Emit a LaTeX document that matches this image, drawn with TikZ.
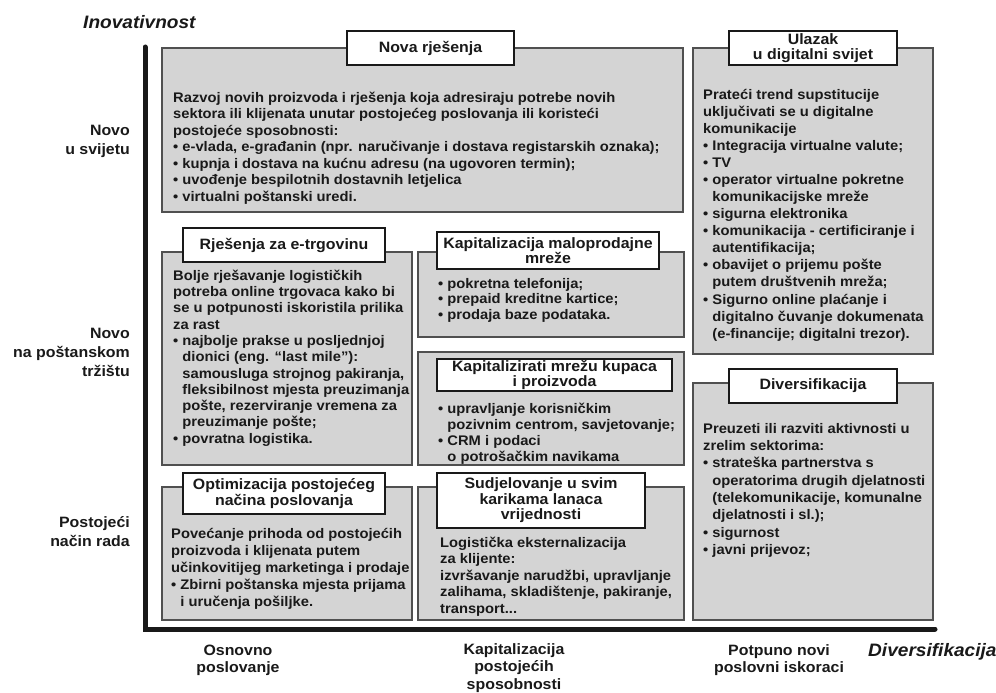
\documentclass[tikz,border=0pt]{standalone}
\usepackage{fontspec}
\setmainfont{Liberation Sans}[FakeStretch=1.06]
\definecolor{boxgrey}{RGB}{212,212,212}
\definecolor{boxline}{RGB}{80,80,80}
\definecolor{ink}{RGB}{25,25,25}
\newcommand\fl{\rule{0pt}{13pt}}
\newcommand\bu{\textbullet\ }
\newcommand\ind{\phantom{\textbullet\ }}
\newcommand\bodyfont[1]{\fontsize{13.9}{#1}\selectfont\bfseries}
\tikzset{
  greybox/.style={draw=boxline, fill=boxgrey, line width=1.3pt},
  titlebox/.style={draw=ink, fill=white, line width=1.4pt, inner sep=0pt, align=center, text=ink, font=\fontsize{15}{15.5}\selectfont\bfseries},
  bodytext/.style={anchor=north west, inner sep=0pt, align=left, text=ink},
  sidelabel/.style={anchor=east, inner sep=0pt, align=right, text=ink, font=\fontsize{15}{19}\selectfont\bfseries},
  bottomlabel/.style={anchor=north, inner sep=0pt, align=center, text=ink, font=\fontsize{15}{17.5}\selectfont\bfseries},
  axistitle/.style={inner sep=0pt, text=ink, font=\fontsize{18}{20}\selectfont\bfseries\itshape},
  axisline/.style={line width=5pt, draw=ink, line cap=round},
}
\begin{document}
\begin{tikzpicture}[x=1pt,y=-1pt]
\useasboundingbox (0,0) rectangle (996,693);
% axes
\coordinate (axtop) at (145,47);
\coordinate (axorigin) at (145,629);
\coordinate (axright) at (935,629);
\draw[axisline] (axtop) -- (axorigin) -- (axright);
\node[axistitle, anchor=west] (ytitle) at (83,22) {Inovativnost};
\node[axistitle, anchor=west] (xtitle) at (868,652) {Diversifikacija};

% side labels
\node[sidelabel] (l1) at (130,141.5) {Novo\\u svijetu};
\node[sidelabel] (l2) at (130,352) {Novo\\na poštanskom\\tržištu};
\node[sidelabel] (l3) at (130,532) {Postojeći\\način rada};

% bottom labels
\node[bottomlabel] (b1) at (238,642) {\fl Osnovno\\poslovanje};
\node[bottomlabel] (b2) at (514,641) {\fl Kapitalizacija\\postojećih\\sposobnosti};
\node[bottomlabel] (b3) at (779,642) {\fl Potpuno novi\\poslovni iskoraci};

% grey boxes
\draw[greybox] (162,48) rectangle (683,212);
\draw[greybox] (693,48) rectangle (933,354);
\draw[greybox] (162,252) rectangle (412,465);
\draw[greybox] (418,252) rectangle (684,337);
\draw[greybox] (418,352) rectangle (684,465);
\draw[greybox] (162,487) rectangle (412,620);
\draw[greybox] (418,487) rectangle (684,620);
\draw[greybox] (693,383) rectangle (933,620);

% titles
\node[titlebox, minimum width=167pt, minimum height=34pt] (t1) at (430.5,48) {Nova rješenja};
\node[titlebox, minimum width=168pt, minimum height=34pt] (t2) at (813,48) {Ulazak\\u digitalni svijet};
\node[titlebox, minimum width=202pt, minimum height=34pt] (t3) at (284,245) {Rješenja za e-trgovinu};
\node[titlebox, minimum width=222pt, minimum height=37pt] (t4) at (548,250.5) {Kapitalizacija maloprodajne\\mreže};
\node[titlebox, minimum width=235pt, minimum height=32pt] (t5) at (554.5,375) {Kapitalizirati mrežu kupaca\\i proizvoda};
\node[titlebox, minimum width=202pt, minimum height=41pt] (t6) at (284,493.5) {Optimizacija postojećeg\\načina poslovanja};
\node[titlebox, minimum width=208pt, minimum height=55pt] (t7) at (541,500.5) {Sudjelovanje u svim\\karikama lanaca\\vrijednosti};
\node[titlebox, minimum width=168pt, minimum height=34pt] (t8) at (813,386) {Diversifikacija};

% body texts
\node[bodytext, font=\bodyfont{16.5}] (x1) at (173,89) {\fl Razvoj novih proizvoda i rješenja koja adresiraju potrebe novih\\
sektora ili klijenata unutar postojećeg poslovanja ili koristeći\\
postojeće sposobnosti:\\
\bu e-vlada, e-građanin (npr. naručivanje i dostava registarskih oznaka);\\
\bu kupnja i dostava na kućnu adresu (na ugovoren termin);\\
\bu uvođenje bespilotnih dostavnih letjelica\\
\bu virtualni poštanski uredi.};

\node[bodytext, font=\bodyfont{17.07}] (x2) at (703,86) {\fl Prateći trend supstitucije\\
uključivati se u digitalne\\
komunikacije\\
\bu Integracija virtualne valute;\\
\bu TV\\
\bu operator virtualne pokretne\\
\ind komunikacijske mreže\\
\bu sigurna elektronika\\
\bu komunikacija - certificiranje i\\
\ind autentifikacija;\\
\bu obavijet o prijemu pošte\\
\ind putem društvenih mreža;\\
\bu Sigurno online plaćanje i\\
\ind digitalno čuvanje dokumenata\\
\ind (e-financije; digitalni trezor).};

\node[bodytext, font=\bodyfont{16.3}] (x3) at (173,267) {\fl Bolje rješavanje logističkih\\
potreba online trgovaca kako bi\\
se u potpunosti iskoristila prilika\\
za rast\\
\bu najbolje prakse u posljednjoj\\
\ind dionici (eng. “last mile”):\\
\ind samousluga strojnog pakiranja,\\
\ind fleksibilnost mjesta preuzimanja\\
\ind pošte, rezerviranje vremena za\\
\ind preuzimanje pošte;\\
\bu povratna logistika.};

\node[bodytext, font=\bodyfont{15.7}] (x4) at (438,275) {\fl\bu pokretna telefonija;\\
\bu prepaid kreditne kartice;\\
\bu prodaja baze podataka.};

\node[bodytext, font=\bodyfont{16}] (x5) at (438,400) {\fl\bu upravljanje korisničkim\\
\ind pozivnim centrom, savjetovanje;\\
\bu CRM i podaci\\
\ind o potrošačkim navikama};

\node[bodytext, font=\bodyfont{17}] (x6) at (171,525) {\fl Povećanje prihoda od postojećih\\
proizvoda i klijenata putem\\
učinkovitijeg marketinga i prodaje\\
\bu Zbirni poštanska mjesta prijama\\
\ind i uručenja pošiljke.};

\node[bodytext, font=\bodyfont{16.5}] (x7) at (440,534) {\fl Logistička eksternalizacija\\
za klijente:\\
izvršavanje narudžbi, upravljanje\\
zalihama, skladištenje, pakiranje,\\
transport...};

\node[bodytext, font=\bodyfont{17.3}] (x8) at (703,420) {\fl Preuzeti ili razviti aktivnosti u\\
zrelim sektorima:\\
\bu strateška partnerstva s\\
\ind operatorima drugih djelatnosti\\
\ind (telekomunikacije, komunalne\\
\ind djelatnosti i sl.);\\
\bu sigurnost\\
\bu javni prijevoz;};
\end{tikzpicture}
\end{document}
